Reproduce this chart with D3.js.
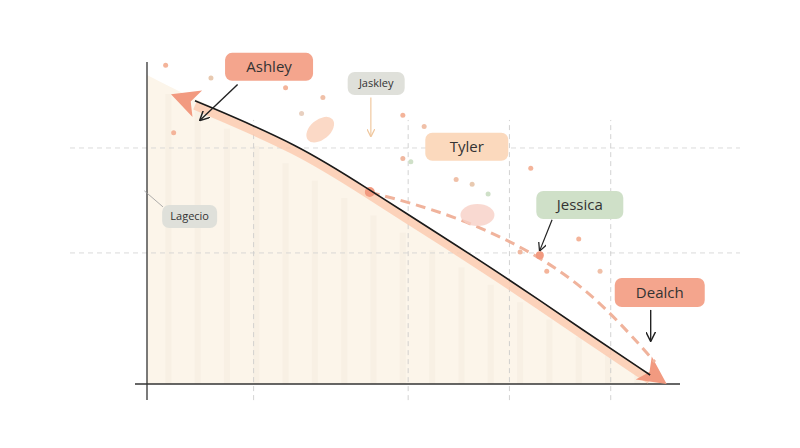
<!DOCTYPE html>
<html><head><meta charset="utf-8">
<script src="https://cdn.jsdelivr.net/npm/d3@7"></script>
<style>body{margin:0;background:#fff}svg{font-family:"Open Sans",sans-serif}</style>
</head><body><div id="chart"></div>
<script>
// Data
const areaPts = [[0,9.6],[1,8.75],[2.9,7.4],[4.2,6.0],[5.5,4.6],[6.8,3.2],[8.2,1.6],[9.75,0]]
const curvePts = [[0.9,8.8],[2.87,7.42],[4.18,6.02],[5.5,4.63],[6.81,3.23],[8.2,1.65],[9.44,0.28]]
const dashPts = [[4.18,5.96],[5.78,5.25],[7.37,4.0],[8.5,2.6],[9.53,0.68]]
const gridX = [2, 4.9, 6.8, 8.7]
const gridY = [7.33, 4.07]
const labels = [
  {name:'Ashley', x:2.29, y:9.85, w:88, h:28, fill:'#f4a58d', size:15},
  {name:'Jaskley', x:4.3, y:9.33, w:57, h:23, fill:'#dfe0da', size:11},
  {name:'Tyler', x:6.0, y:7.37, w:83, h:28, fill:'#fbd9bd', size:15},
  {name:'Jessica', x:8.12, y:5.56, w:87, h:28, fill:'#cfe0c8', size:15},
  {name:'Dealch', x:9.62, y:2.84, w:90, h:29, fill:'#f4a58d', size:15},
  {name:'Lagecio', x:0.8, y:5.2, w:55, h:23, fill:'#dfe0da', size:11}
]
const dots = [[0.35,9.9,'#f4b49a'],[1.2,9.5,'#e8c9b0'],[2.6,9.2,'#f4b49a'],[3.3,8.9,'#f0c0a8'],[2.9,8.4,'#e8d0c0'],
  [0.5,7.8,'#f4b49a'],[4.8,7.0,'#f0b8a0'],[4.95,6.9,'#cfe0c8'],[5.8,6.35,'#f0c0a8'],[6.1,6.2,'#e8c9b0'],
  [7.2,6.7,'#f4b49a'],[6.4,5.9,'#cfe0c8'],[8.1,4.5,'#f4b49a'],[7.0,4.1,'#f0b8a0'],[7.5,3.5,'#f4b49a'],
  [8.5,3.5,'#f0c0a8'],[5.2,8.0,'#f0c0a8'],[4.8,8.35,'#f4b49a']]

const width = 800, height = 448
const svg = d3.select('#chart').append('svg').attr('width', width).attr('height', height)
const x = d3.scaleLinear().domain([0,10]).range([147,680])
const y = d3.scaleLinear().domain([0,10]).range([384,62])
const defs = svg.append('defs')

// area
svg.append('path')
  .datum(areaPts)
  .attr('fill','#fcf5ea')
  .attr('d', d3.area().x(d=>x(d[0])).y0(y(0)).y1(d=>y(d[1])).curve(d3.curveBasis))

// faint vertical stripes
svg.append('g').selectAll('line').data(d3.range(0.4,9.6,0.55)).join('line')
  .attr('x1',d=>x(d)).attr('x2',d=>x(d)).attr('y1',y(0)).attr('y2',d=>y(9.4-d*0.98))
  .attr('stroke','#f5ede0').attr('stroke-width',6).attr('opacity',0.5)

// grid
svg.append('g').selectAll('line').data(gridX).join('line')
  .attr('x1',d=>x(d)).attr('x2',d=>x(d)).attr('y1',y(-0.5)).attr('y2',y(8.2))
  .attr('stroke','#c8c8c8').attr('stroke-dasharray','5,4').attr('stroke-width',0.8)
svg.append('g').selectAll('line').data(gridY).join('line')
  .attr('x1',70).attr('x2',740).attr('y1',d=>y(d)).attr('y2',d=>y(d))
  .attr('stroke','#d0d0d0').attr('stroke-dasharray','5,4').attr('stroke-width',0.8)

// axes
svg.append('line').attr('x1',x(0)).attr('x2',x(0)).attr('y1',y(10)).attr('y2',400).attr('stroke','#333').attr('stroke-width',1.3)
svg.append('line').attr('x1',135).attr('x2',x(10)).attr('y1',y(0)).attr('y2',y(0)).attr('stroke','#333').attr('stroke-width',1.3)

// orange band
const line = d3.line().x(d=>x(d[0])).y(d=>y(d[1])).curve(d3.curveBasis)
svg.append('path').datum(curvePts.map(d=>[d[0],d[1]-0.15]))
  .attr('d',line).attr('fill','none').attr('stroke','#fbc9ae').attr('stroke-width',9).attr('opacity',0.8)
const head = (px,py,ang) => svg.append('path')
  .attr('d','M0,0 L-28,-14 L-21,0 L-28,14 Z')
  .attr('fill','#f29a80')
  .attr('transform',`translate(${px},${py}) rotate(${ang})`)
head(x(9.75), y(0), 35)
head(x(0.45), y(9.0), 200)

// dashed
svg.append('path').datum(dashPts).attr('d',line).attr('fill','none')
  .attr('stroke','#f0b39c').attr('stroke-width',3).attr('stroke-dasharray','10,6')
svg.append('circle').attr('cx',x(4.18)).attr('cy',y(5.96)).attr('r',5).attr('fill','#f29a80')
svg.append('circle').attr('cx',x(7.37)).attr('cy',y(4.0)).attr('r',4).attr('fill','#f29a80')

// black curve
svg.append('path').datum(curvePts).attr('d',line).attr('fill','none').attr('stroke','#1a1a1a').attr('stroke-width',1.6)

// leaves
svg.append('ellipse').attr('cx',x(3.25)).attr('cy',y(7.9)).attr('rx',16).attr('ry',10)
  .attr('transform',`rotate(-40,${x(3.25)},${y(7.9)})`).attr('fill','#fbd9c6')
svg.append('ellipse').attr('cx',x(6.2)).attr('cy',y(5.25)).attr('rx',17).attr('ry',11).attr('fill','#f8cfc6').attr('opacity',0.8)

// dots
svg.append('g').selectAll('circle').data(dots).join('circle')
  .attr('cx',d=>x(d[0])).attr('cy',d=>y(d[1])).attr('r',2.5).attr('fill',d=>d[2])

// label boxes
const lg = svg.append('g').selectAll('g').data(labels).join('g')
  .attr('transform',d=>`translate(${x(d.x)},${y(d.y)})`)
lg.append('rect').attr('x',d=>-d.w/2).attr('y',d=>-d.h/2).attr('width',d=>d.w).attr('height',d=>d.h)
  .attr('rx',7).attr('fill',d=>d.fill)
lg.append('text').attr('text-anchor','middle').attr('dy','0.35em').attr('font-size',d=>d.size)
  .attr('fill','#333').text(d=>d.name)

// pointer arrows
defs.append('marker').attr('id','ah').attr('viewBox','0 0 10 10').attr('refX',9).attr('refY',5)
  .attr('markerWidth',7).attr('markerHeight',7).attr('orient','auto')
  .append('path').attr('d','M0,0 L10,5 L0,10').attr('fill','none').attr('stroke','context-stroke').attr('stroke-width',1.5)
const ptr = (a,b,c,col) => svg.append('line').attr('x1',x(a[0])).attr('y1',y(a[1])).attr('x2',x(b[0])).attr('y2',y(b[1]))
  .attr('stroke',col).attr('stroke-width',c).attr('marker-end','url(#ah)')
ptr([1.7,9.3],[1.0,8.2],1.4,'#222')
ptr([4.2,8.9],[4.2,7.7],1.2,'#f0c8a0')
ptr([7.6,5.1],[7.37,4.15],1.2,'#222')
ptr([9.45,2.3],[9.45,1.35],1.4,'#222')
svg.append('line').attr('x1',x(-0.05)).attr('y1',y(6.0)).attr('x2',x(0.3)).attr('y2',y(5.5)).attr('stroke','#999').attr('stroke-width',0.8)
</script></body></html>
